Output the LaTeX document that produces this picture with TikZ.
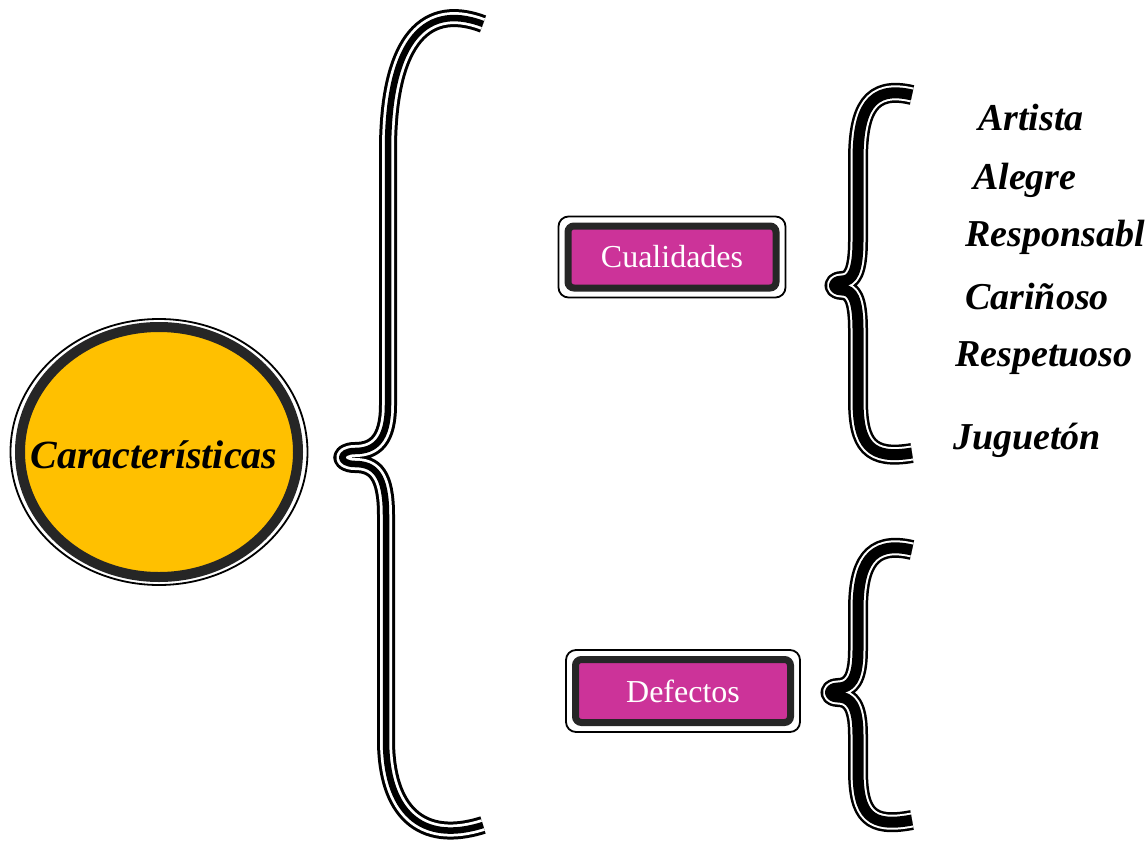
\documentclass[tikz,border=0pt]{standalone}
\usepackage{fontspec}
\setmainfont{Liberation Serif}
\usepackage{xcolor}
\usepackage{tikz}
\usetikzlibrary{positioning}
\definecolor{amarillo}{HTML}{FFC000}
\definecolor{magenta}{HTML}{CC3399}
\definecolor{oscuro}{HTML}{262626}
\tikzset{
  bigbrace/.style={line width=6.5pt, line join=round,
    preaction={draw, white, line width=12pt, line join=round,
      preaction={draw, black, line width=18pt, line join=round}}},
  smallbrace/.style={line width=11pt, line join=round,
    preaction={draw, white, line width=15pt, line join=round,
      preaction={draw, black, line width=20pt, line join=round}}},
  boton/.style={rectangle, rounded corners=6pt, fill=magenta, draw=oscuro, line width=7pt,
    text=white, font=\fontsize{32}{36}\selectfont, inner sep=0pt},
  marco/.style={line width=1.8pt, rounded corners=10pt},
  item/.style={anchor=west, font=\fontsize{38}{40}\selectfont\bfseries\itshape, inner sep=0pt}
}
\begin{document}
\begin{tikzpicture}[x=1pt,y=-1pt]
            \useasboundingbox (0,0) rectangle (1148,843);
            \coordinate (carc) at (159,452);
            \draw[line width=1.8pt] (carc) ellipse [x radius=148.5pt, y radius=133pt];
            \draw[fill=amarillo, draw=oscuro, line width=10pt] (carc) ellipse [x radius=139pt, y radius=125pt];
            \node[font=\fontsize{40}{44}\selectfont\bfseries\itshape](car) at (154,455) {Características};
            \node[boton, minimum width=208pt, minimum height=62pt](cual) at (672,257) {Cualidades};
            \draw[marco] ([shift={(-6,-6)}]cual.north west) rectangle ([shift={(6,6)}]cual.south east);
            \node[boton, minimum width=215pt, minimum height=63pt](def) at (683,691) {Defectos};
            \draw[marco] ([shift={(-6,-6)}]def.north west) rectangle ([shift={(6,6)}]def.south east);
            \node[item](art) at (978,118) {Artista};
            \node[item](ale) at (973,180) {Alegre};
            \node[item](resp) at (965,237) {Responsabl};
            \node[item](cari) at (965,297) {Cariñoso};
            \node[item](respe) at (955,358) {Respetuoso};
            \node[item](jug) at (953,440) {Juguetón};
            \draw[bigbrace] (483,24) .. controls (420,0) and (388,50) .. (388,150) -- (388,405)
                .. controls (388,440) and (375,451) .. (355,451)
                .. controls (338,451) and (338,464) .. (355,464)
                .. controls (375,464) and (386,475) .. (386,515) -- (386,740)
                .. controls (386,810) and (420,845) .. (483,825);
            \draw[smallbrace] (912,95) .. controls (870,85) and (858,110) .. (858,160) -- (858,240)
                .. controls (858,272) and (852,281) .. (842,281)
                .. controls (832,281) and (832,290) .. (842,290)
                .. controls (852,290) and (858,298) .. (858,330) -- (858,400)
                .. controls (858,445) and (870,460) .. (912,453);
            \draw[smallbrace] (912,550) .. controls (870,540) and (858,565) .. (858,610) -- (858,650)
                .. controls (858,680) and (850,688) .. (838,688)
                .. controls (828,688) and (828,697) .. (838,697)
                .. controls (850,697) and (858,705) .. (858,735) -- (858,770)
                .. controls (858,815) and (870,828) .. (912,820);
        \end{tikzpicture}
\end{document}
